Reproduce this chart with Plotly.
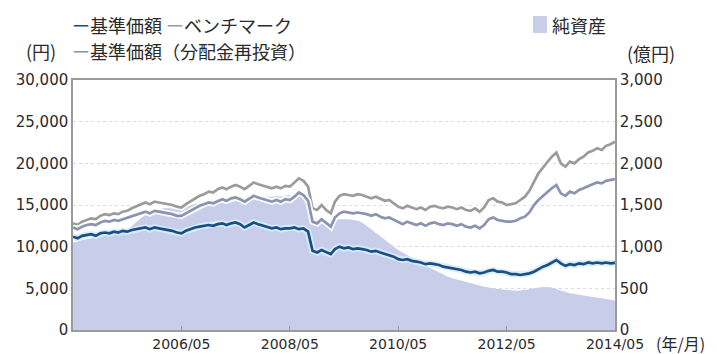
import pandas as pd
import plotly.graph_objects as go

months = pd.date_range("2004-05-01", "2014-05-01", freq="MS")

nav = [11200, 11000, 11300, 11400, 11500, 11300, 11600, 11700,
       11600, 11800, 11700, 11900, 11800, 12000, 12100, 12200, 12300, 12100, 12300, 12200,
       12100, 12000, 11900, 11700, 11600, 11900, 12100, 12300, 12400, 12500, 12600, 12500,
       12700, 12800, 12600, 12800, 12900, 12700, 12300, 12600, 12900, 12700, 12500, 12400,
       12200, 12300, 12100, 12200, 12200, 12300, 12100, 12200, 11800, 9500, 9300, 9600,
       9300, 9100, 9700, 10000, 9800, 9900, 9700, 9800, 9700, 9600, 9400, 9500,
       9300, 9100, 9000, 8800, 8500, 8400, 8500, 8300, 8200, 8100, 7900, 8000,
       7900, 7800, 7600, 7500, 7400, 7300, 7200, 7000, 6900, 7000, 6800, 6900,
       7100, 7200, 7000, 7000, 6900, 6700, 6700, 6600, 6700, 6800, 7000, 7300,
       7600, 7800, 8100, 8400, 8000, 7700, 7900, 7800, 8000, 7900, 8100, 8000,
       8100, 8000, 8100, 8000, 8050]

benchmark = [12800, 12600, 13000, 13200, 13400, 13300, 13700, 13900,
             13800, 14000, 13900, 14200, 14300, 14600, 14800, 15100, 15300, 15100, 15400, 15300,
             15200, 15100, 15000, 14800, 14700, 15100, 15400, 15800, 16100, 16300, 16600, 16500,
             16900, 17100, 16900, 17200, 17400, 17200, 16900, 17300, 17700, 17500, 17300, 17200,
             17000, 17200, 17000, 17300, 17200, 17700, 18200, 17900, 17200, 14600, 14400, 15000,
             14400, 14000, 15400, 16100, 16300, 16200, 16100, 16300, 16200, 16000, 15800, 16000,
             15700, 15500, 15600, 15200, 14800, 14600, 14900, 14700, 14500, 14700, 14400, 14800,
             14900, 14700, 14600, 14800, 14700, 14500, 14700, 14400, 14300, 14600, 14200, 14700,
             15600, 15800, 15400, 15300, 15000, 15100, 15200, 15600, 16000, 16700, 17800, 18800,
             19500, 20200, 20800, 21300, 20000, 19600, 20200, 20000, 20500, 20800, 21300, 21500,
             21800, 21600, 22100, 22300, 22600]

nav_reinv = [12300, 12100, 12400, 12600, 12700, 12600, 12900, 13100,
             13000, 13200, 13100, 13300, 13400, 13600, 13800, 14000, 14200, 14000, 14300, 14200,
             14100, 14000, 13900, 13700, 13700, 14000, 14300, 14600, 14900, 15100, 15300, 15200,
             15500, 15700, 15500, 15800, 15900, 15700, 15400, 15800, 16100, 15900, 15700, 15600,
             15400, 15600, 15400, 15700, 15600, 16000, 16500, 16200, 15500, 13000, 12800, 13300,
             12800, 12400, 13500, 14000, 14200, 14100, 14000, 14100, 14000, 13900, 13700, 13900,
             13600, 13400, 13500, 13200, 12900, 12700, 13000, 12800, 12600, 12800, 12500, 12800,
             12900, 12700, 12600, 12800, 12700, 12500, 12700, 12400, 12300, 12500, 12200, 12600,
             13300, 13500, 13200, 13100, 13000, 13000, 13100, 13400, 13600, 14100, 15000, 15600,
             16100, 16600, 17000, 17400, 16400, 16100, 16600, 16400, 16800, 17000, 17300, 17500,
             17700, 17600, 17900, 18000, 18100]

net_assets = [1050, 1060, 1080, 1090, 1100, 1110, 1130, 1140,
              1150, 1160, 1170, 1180, 1200, 1250, 1300, 1340, 1380, 1400, 1430, 1440,
              1460, 1460, 1470, 1470, 1480, 1490, 1500, 1510, 1520, 1530, 1540, 1550,
              1560, 1570, 1570, 1580, 1590, 1590, 1580, 1590, 1600, 1600, 1600, 1600,
              1600, 1610, 1600, 1610, 1620, 1620, 1630, 1630, 1580, 1350, 1300, 1320,
              1300, 1290, 1320, 1330, 1330, 1330, 1320, 1310, 1290, 1250, 1200, 1160,
              1120, 1080, 1040, 1000, 960, 930, 900, 860, 830, 800, 770, 745,
              720, 690, 660, 640, 620, 605, 590, 575, 560, 545, 530, 520,
              510, 500, 490, 485, 480, 475, 470, 475, 480, 490, 500, 510,
              515, 515, 510, 490, 470, 455, 440, 430, 420, 410, 400, 395,
              390, 380, 375, 365, 355]

left_ticks = [0, 5000, 10000, 15000, 20000, 25000, 30000]
left_ticktext = ["0", "5,000", "10,000", "15,000", "20,000", "25,000", "30,000"]
right_ticks = [0, 500, 1000, 1500, 2000, 2500, 3000]
right_ticktext = ["0", "500", "1,000", "1,500", "2,000", "2,500", "3,000"]
x_ticks = ["2006-05-01", "2008-05-01", "2010-05-01", "2012-05-01", "2014-05-01"]
x_ticktext = ["2006/05", "2008/05", "2010/05", "2012/05", "2014/05"]

C_NAV = "#1b4f82"
C_BM = "#9b9b9b"
C_RE = "#8c93b0"
C_FILL = "#c8cde9"
JP = "Noto Sans CJK JP"
NUM = "DejaVu Sans"
TXT = "#2a2a2a"

L, R, T, B, W, H = 73, 102, 80, 24, 717, 354
PW, PH = W - L - R, H - T - B

fig = go.Figure()

fig.add_trace(go.Scatter(x=months, y=net_assets, yaxis="y", mode="lines",
                         line=dict(color=C_FILL, width=0), fill="tozeroy",
                         fillcolor=C_FILL, hoverinfo="skip", showlegend=False))

for series, halo, color in [(benchmark, "rgba(255,255,255,0.85)", C_BM),
                            (nav_reinv, "rgba(255,255,255,0.85)", C_RE),
                            (nav, "rgba(215,238,252,0.9)", C_NAV)]:
    fig.add_trace(go.Scatter(x=months, y=series, yaxis="y2", mode="lines",
                             line=dict(color=halo, width=6.5), hoverinfo="skip",
                             showlegend=False))
    fig.add_trace(go.Scatter(x=months, y=series, yaxis="y2", mode="lines",
                             line=dict(color=color, width=2.7), showlegend=False))

tickfont = dict(family=NUM, size=15, color=TXT)
fig.update_layout(
    width=W, height=H,
    margin=dict(l=L, r=R, t=T, b=B),
    paper_bgcolor="white", plot_bgcolor="white",
    font=dict(family=JP, size=18, color=TXT),
    xaxis=dict(type="date", range=["2004-05-01", "2014-05-01"],
               tickvals=x_ticks, ticktext=x_ticktext, automargin=False,
               showline=True, linecolor="#9a9a9a", linewidth=1.5, mirror=True,
               ticks="inside", ticklen=4, tickcolor="#9a9a9a",
               ticklabelstandoff=0,
               showgrid=False, tickfont=dict(family=NUM, size=14, color=TXT)),
    yaxis=dict(range=[0, 3000], side="right", tickvals=right_ticks,
               ticktext=right_ticktext, showline=True, linecolor="#9a9a9a",
               linewidth=1.5, showgrid=True, gridcolor="#dcdcdc", griddash="dot",
               zeroline=False, ticks="", tickfont=tickfont, automargin=False),
    yaxis2=dict(range=[0, 30000], side="left", overlaying="y",
                tickvals=left_ticks, ticktext=left_ticktext, automargin=False,
                showline=True, linecolor="#9a9a9a", linewidth=1.5,
                showgrid=False, zeroline=False, ticks="", tickfont=tickfont),
)

ann = [
    dict(x=70, y=25, size=18,
         text=f"<span style='color:{C_NAV}'>ー</span>基準価額 <span style='color:{C_BM}'>ー</span>ベンチマーク"),
    dict(x=70, y=51, size=18,
         text=f"<span style='color:{C_RE}'>ー</span>基準価額（分配金再投資）"),
    dict(x=24, y=51, size=18, text="(円)"),
    dict(x=625, y=53, size=18, text="(億円)"),
    dict(x=550, y=25, size=18, text="純資産"),
    dict(x=654, y=343, size=16, text="(年/月)"),
]
for a in ann:
    fig.add_annotation(xref="paper", yref="paper", showarrow=False,
                       x=(a["x"] - L) / PW, y=1 - (a["y"] - T) / PH,
                       xanchor="left", yanchor="middle", text=a["text"],
                       font=dict(family=JP, size=a["size"], color=TXT))

fig.add_shape(type="rect", xref="paper", yref="paper",
              x0=(533 - L) / PW, x1=(547 - L) / PW,
              y0=1 - (33 - T) / PH, y1=1 - (16 - T) / PH,
              fillcolor=C_FILL, line=dict(width=0))

fig.write_html("out.html")
